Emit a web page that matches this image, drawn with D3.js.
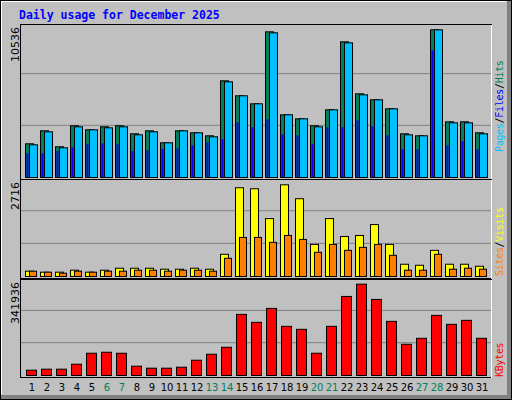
<!DOCTYPE html>
<html><head><meta charset="utf-8">
<script src="https://cdn.jsdelivr.net/npm/d3@7"></script>
<style>body{margin:0;background:#fff}svg{display:block}</style>
</head><body>
<div id="chart"></div>
<script>
const days = d3.range(1, 32)
const weekend = [6, 7, 13, 14, 20, 21, 27, 28]

const hits = [2336, 3236, 2128, 3583, 3306, 3514, 3583, 3028, 3236, 2405, 3236, 3098, 2890, 6701, 5662, 5107,
  10097, 4345, 4068, 3583, 4692, 9404, 5800, 5385, 4761, 3028, 2890, 10236, 3860, 3860, 3098]
const files = [2266, 3167, 2058, 3514, 3306, 3444, 3514, 2959, 3167, 2405, 3236, 3098, 2821, 6632, 5662, 5107,
  10028, 4345, 4068, 3514, 4692, 9335, 5731, 5385, 4761, 2959, 2890, 10236, 3791, 3791, 3028]
const pages = [1642, 1642, 1802, 2058, 2266, 2336, 2266, 1802, 1850, 1940, 1989, 2197, 2405, 2613, 3791, 3444,
  3999, 2959, 2890, 2266, 3444, 3444, 3929, 3514, 2890, 1920, 1920, 8781, 2197, 2474, 1920]
const visits = [150, 122, 122, 178, 122, 178, 234, 234, 234, 206, 206, 234, 206, 628, 2510, 2482,
  1639, 2594, 2201, 908, 1639, 1133, 1161, 1470, 908, 347, 318, 740, 347, 347, 290]
const sites = [150, 122, 94, 150, 122, 150, 150, 178, 178, 150, 178, 178, 150, 515, 1105, 1105,
  965, 1161, 1049, 684, 908, 740, 824, 908, 599, 178, 178, 628, 206, 234, 206]
const kbytes = [19130, 22716, 22716, 40650, 80105, 83692, 80105, 33477, 26303, 26303, 29890, 54997, 76518, 101626,
  219990, 191296, 241511, 176949, 166188, 80105, 176949, 284553, 328790, 273792, 194883, 112386, 133907,
  216404, 184122, 198470, 133907]
const maxHits = 10536, maxVisits = 2716, maxKB = 341936

const W = 512, H = 400
const svg = d3.select('#chart').append('svg').attr('width', W).attr('height', H)
  .style('font-family', 'DejaVu Sans Mono')

// frame
svg.append('rect').attr('width', W).attr('height', H).attr('fill', '#c0c0c0')
svg.append('rect').attr('x', 507).attr('y', 0).attr('width', 5).attr('height', H).attr('fill', '#808080')
svg.append('rect').attr('x', 0).attr('y', 395).attr('width', W).attr('height', 5).attr('fill', '#808080')
svg.append('rect').attr('x', 0.5).attr('y', 0.5).attr('width', W - 1).attr('height', H - 1)
  .attr('fill', 'none').attr('stroke', '#000')
svg.append('line').attr('x1', 1).attr('x2', 506).attr('y1', 1.5).attr('y2', 1.5).attr('stroke', '#fff')
svg.append('line').attr('x1', 1.5).attr('x2', 1.5).attr('y1', 1).attr('y2', 394).attr('stroke', '#fff')

svg.append('text').attr('x', 19).attr('y', 19).attr('fill', '#0000ff')
  .attr('font-size', 11.5).attr('font-weight', 'bold').text('Daily usage for December 2025')

const x = d3.scaleBand().domain(days).range([22, 487]).paddingInner(0)

function panel(top, bottom, max, label) {
  svg.append('rect').attr('x', 20.5).attr('y', top - 0.5).attr('width', 471).attr('height', bottom - top + 3)
    .attr('fill', 'none').attr('stroke', '#000')
  svg.append('line').attr('x1', 491.5).attr('x2', 491.5).attr('y1', top).attr('y2', bottom + 3).attr('stroke', '#fff')
  const y = d3.scaleLinear().domain([0, max]).range([bottom, top])
  const grid = [1 / 3, 2 / 3].map(f => bottom - (bottom - top) * f * 1.02)
  svg.selectAll(null).data(grid).join('line')
    .attr('x1', 21).attr('x2', 491).attr('y1', d => d).attr('y2', d => d).attr('stroke', '#808080')
  svg.append('text').attr('transform', `translate(19,${top + 2}) rotate(-90)`)
    .attr('text-anchor', 'end').attr('font-size', 11).attr('font-family', 'DejaVu Sans').text(label)
  return y
}

function bars(vals, y, dx, w, color) {
  svg.append('g').selectAll('rect').data(vals).join('rect')
    .attr('x', (d, i) => x(days[i]) + dx + 0.5).attr('y', d => y(d) + 0.5)
    .attr('width', w).attr('height', d => y(0) - y(d))
    .attr('fill', color).attr('stroke', '#000')
}

function sideLabel(parts, yBottom) {
  const t = svg.append('text').attr('transform', `translate(503,${yBottom}) rotate(-90)`)
    .attr('font-size', 10).attr('letter-spacing', -0.3)
  parts.forEach(([s, c]) => t.append('tspan').attr('fill', c).text(s))
}

const y1 = panel(25, 177, maxHits, maxHits)
bars(hits, y1, 3, 8, '#00805c')
bars(files, y1, 7, 8, '#00c0ff')
svg.append('g').selectAll('rect').data(pages).join('rect')
  .attr('x', (d, i) => x(days[i]) + 4.5).attr('y', d => y1(d))
  .attr('width', 2).attr('height', d => y1(0) - y1(d)).attr('fill', '#0000ff')
sideLabel([['Pages', '#00c0ff'], ['/', '#000'], ['Files', '#0000ff'], ['/', '#000'], ['Hits', '#00805c']], 152)

const y2 = panel(180, 276, maxVisits, maxVisits)
bars(visits, y2, 3, 8, '#ffff00')
bars(sites, y2, 7, 7, '#ff8000')
sideLabel([['Sites', '#ff8000'], ['/', '#000'], ['Visits', '#ffff00']], 276)

const y3 = panel(280, 375, maxKB, maxKB)
bars(kbytes, y3, 4, 10, '#ff0000')
sideLabel([['KBytes', '#ff0000']], 377)

svg.append('g').selectAll('text').data(days).join('text')
  .attr('x', d => x(d) + 10).attr('y', 391).attr('text-anchor', 'middle')
  .attr('font-size', 10).attr('font-family', 'DejaVu Sans')
  .attr('fill', d => weekend.includes(d) ? '#00805c' : '#000').text(d => d)
</script>
</body></html>
